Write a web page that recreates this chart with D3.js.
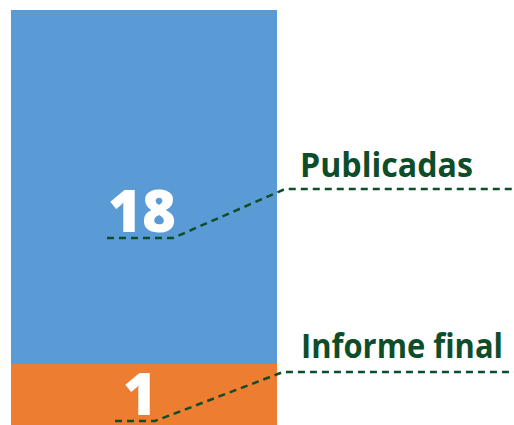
<!DOCTYPE html>
<html><head><meta charset="utf-8">
<script src="https://cdn.jsdelivr.net/npm/d3@7"></script>
<style>html,body{margin:0;padding:0;background:#fff;}</style>
</head><body>
<svg id="c" width="514" height="425"></svg>
<script>
const categories = ["Informe final", "Publicadas"];
const values = [1, 18];
const colors = ["#ED7D31", "#5B9BD5"];

const svg = d3.select("#c");
const total = d3.sum(values);
// piecewise scale: small first segment is given a minimum visible height
const y = d3.scaleLinear().domain([0, values[0], total]).range([425, 364, 10]);
const x = d3.scaleBand().domain(["bar"]).range([11, 277]).padding(0);

let acc = 0;
const stack = values.map((v, i) => { const s = {cat: categories[i], v, y0: acc, y1: acc + v, color: colors[i]}; acc += v; return s; });

svg.selectAll("rect.seg").data(stack).enter().append("rect")
  .attr("x", x("bar")).attr("width", x.bandwidth())
  .attr("y", d => y(d.y1)).attr("height", d => y(d.y0) - y(d.y1))
  .attr("fill", d => d.color);

const green = "#0E4D2A";
const cfg = [
  {numX: 140, numY: 415, lx0: 115, ly0: 421, lx1: 155, dx: 283, dy: 372, tx: 301, ty: 358, tw: 202},
  {numX: 142, numY: 232, lx0: 107, ly0: 238, lx1: 173, dx: 285, dy: 189, tx: 300, ty: 177, tw: 173}
];
stack.forEach((d, i) => {
  const c = cfg[i];
  svg.append("text").attr("x", c.numX).attr("y", c.numY)
    .attr("text-anchor", "middle").attr("fill", "#fff")
    .attr("font-family", "Open Sans").attr("font-weight", 800).attr("font-size", 58)
    .text(d.v);
  svg.append("path")
    .attr("d", `M${c.lx0},${c.ly0}H${c.lx1}L${c.dx},${c.dy}H514`)
    .attr("fill", "none").attr("stroke", green).attr("stroke-width", 2.5)
    .attr("stroke-dasharray", "7,5");
  svg.append("text").attr("x", c.tx).attr("y", c.ty)
    .attr("fill", green).attr("font-family", "Open Sans").attr("font-weight", 700).attr("font-size", 34)
    .attr("textLength", c.tw).attr("lengthAdjust", "spacingAndGlyphs")
    .text(d.cat);
});
</script>
</body></html>
